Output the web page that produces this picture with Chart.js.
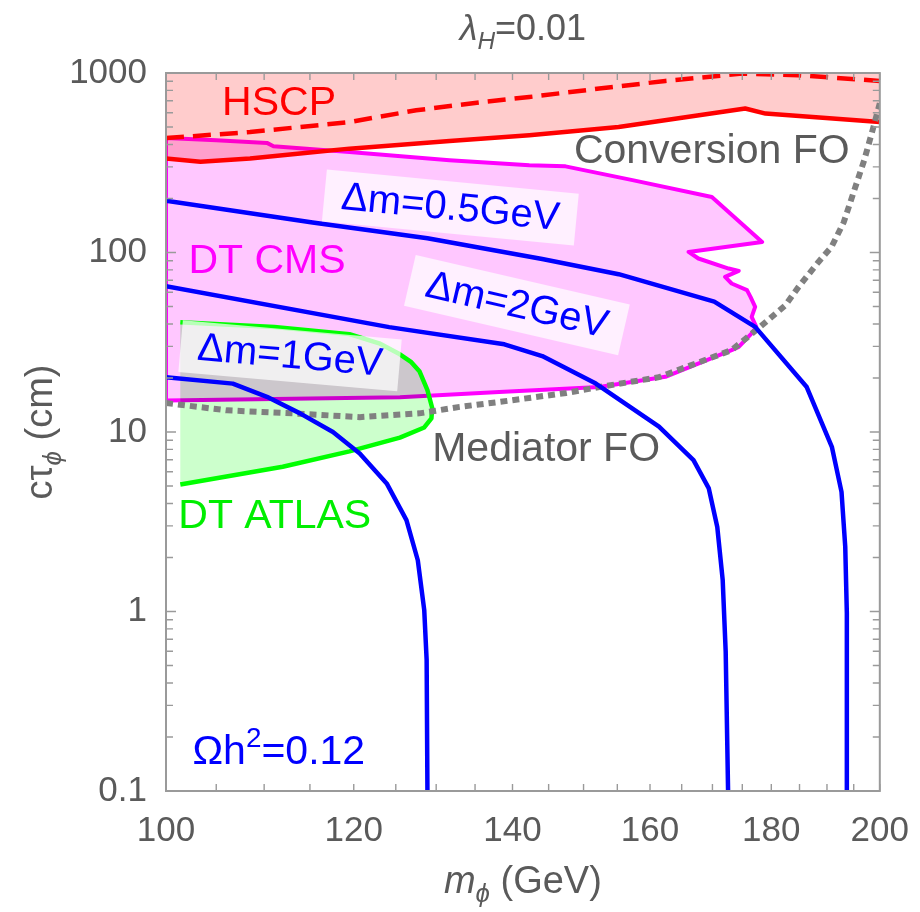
<!DOCTYPE html>
<html>
<head>
<meta charset="utf-8">
<script src="https://cdn.jsdelivr.net/npm/chart.js@4.4.1/dist/chart.umd.min.js"></script>
<style>
  html, body { margin: 0; padding: 0; background: #fff; }
  canvas { display: block; }
</style>
</head>
<body>
<canvas id="lifetimeChart" width="920" height="912"></canvas>
<script>
// m_phi in GeV, c*tau_phi in cm
const hscpSolidM  = [100, 103.4, 108.5, 113.9, 119.5, 131.7, 142.3, 155.2, 175.5, 179, 200];
const hscpSolidCt = [334, 320, 334, 356, 379, 418, 450, 500, 634, 594, 533];

const hscpDashM  = [100, 108.5, 113.9, 119.5, 127.5, 136.0, 142.3, 152.3, 162.4, 175.0, 184.8, 200];
const hscpDashCt = [434, 469, 500, 533, 620, 689, 735, 819, 903, 992, 971, 903];

// DT CMS excluded region, traced as a closed outline
const cmsM  = [100, 105.0, 110.3, 111.0, 119.5, 131.7, 142.3, 147.4, 157.3, 169.9, 178.4, 166.1, 167.7, 172.7,
               174.4, 172.1, 173.2, 175.8, 176.4, 177.2, 176.6, 177.4, 176.6, 174.4, 173.2, 162.4, 152.3, 138.2,
               125.5, 100, 100];
const cmsCt = [434, 422, 408, 391, 363, 327, 306, 302, 253, 204, 114.5, 100.7, 92.6, 81.4,
               79.0, 73.1, 67.2, 61.7, 56.6, 49.8, 43.8, 38.5, 35.4, 29.8, 28.6, 20.3, 17.8, 16.7,
               15.6, 15.0, 434];

// DT ATLAS excluded region (open on the left side)
const atlasM  = [101.4, 111.1, 119.5, 123.0, 125.5, 126.9, 127.9, 128.9, 129.5, 129.4, 128.5, 125.5, 119.5, 112.0, 101.4];
const atlasCt = [40.9, 38.4, 35.1, 31.2, 27.1, 24.5, 21.8, 17.1, 13.6, 11.9, 10.6, 9.3, 7.8, 6.4, 5.1];

// mediator / conversion freeze-out boundary
const foM  = [100, 106.1, 113.1, 120.7, 127.9, 133.0, 138.2, 147.5, 152.3, 161.4, 173.2, 177.8, 182.5, 184.8,
              188.4, 190.8, 193.1, 195.1, 197.0, 198.6, 200];
const foCt = [14.5, 13.2, 12.7, 12.1, 12.7, 13.8, 14.7, 16.5, 17.8, 20.2, 28.6, 37.9, 50.9, 64.1,
              88.3, 107, 147, 222, 327, 480, 678];

// relic density contours, Omega h^2 = 0.12
const dm05M  = [100, 115.3, 128.9, 144.1, 155.2, 170.3, 177.2, 186.3, 190.9, 192.7, 193.4, 193.7, 193.7];
const dm05Ct = [194, 147, 120, 92.1, 75.7, 53.3, 38.5, 17.8, 8.27, 4.64, 2.29, 0.98, 0.1];

const dm2M  = [100, 124.2, 138.9, 144.1, 151.8, 161.4, 166.9, 169.4, 170.8, 171.7, 172.2, 172.6];
const dm2Ct = [64.9, 38.4, 30.8, 26.5, 18.6, 10.7, 6.97, 4.85, 2.96, 1.50, 0.6, 0.1];

const dm1M  = [100, 106.7, 110.3, 113.9, 117.6, 120.7, 123.9, 126.3, 127.7, 128.5, 128.8, 128.9];
const dm1Ct = [20.2, 18.6, 15.7, 12.7, 10.0, 7.6, 5.17, 3.23, 1.93, 1.02, 0.54, 0.1];

const xTicks = [100, 105, 110, 115, 120, 125, 130, 135, 140, 145, 150, 155, 160, 165, 170, 175, 180, 185, 190, 195, 200];
const xLabelled = [100, 120, 140, 160, 180, 200];
const yTicks = [0.1, 0.2, 0.3, 0.4, 0.5, 0.6, 0.7, 0.8, 0.9, 1, 2, 3, 4, 5, 6, 7, 8, 9,
                10, 20, 30, 40, 50, 60, 70, 80, 90, 100, 200, 300, 400, 500, 600, 700, 800, 900, 1000];
const yLabelled = [0.1, 1, 10, 100, 1000];

const plainLabels = [
  { text: 'HSCP',          m: 105.6, ct: 678,  color: '#ff0000' },
  { text: 'Conversion FO', m: 148.6, ct: 365,  color: '#5a5a5a' },
  { text: 'DT CMS',        m: 102.2, ct: 89.4, color: '#ff00ff' },
  { text: 'Mediator FO',   m: 129.5, ct: 7.93, color: '#5a5a5a' },
  { text: 'DT ATLAS',      m: 101.2, ct: 3.36, color: '#00ee00' }
];
const boxLabels = [
  { text: 'Δm=0.5GeV', m: 131.8, ct: 178,  angle: 5.5 },
  { text: 'Δm=2GeV',   m: 140.6, ct: 50.9, angle: 13 },
  { text: 'Δm=1GeV',   m: 112.8, ct: 26.6, angle: 5 }
];

const FONT = '"Liberation Sans", Arial, sans-serif';
const GREY = '#5a5a5a';
const FRAME = '#9a9a9a';
const ATLAS_FILL_INDEX = 3;

const pts = (ms, cts) => ms.map((m, i) => ({ x: m, y: cts[i] }));

// text made of pieces: 'n' normal, 'i' italic, 's' italic subscript, 'p' superscript
function drawRich(ctx, parts, x, y, size, align) {
  const fontFor = (k) => {
    const it = (k === 'i' || k === 's') ? 'italic ' : '';
    const sz = (k === 's' || k === 'p') ? size * 0.68 : size;
    return `${it}${sz}px ${FONT}`;
  };
  let w = 0;
  parts.forEach(([t, k]) => { ctx.font = fontFor(k); w += ctx.measureText(t).width; });
  let cx = align === 'center' ? x - w / 2 : x;
  ctx.textAlign = 'left';
  ctx.textBaseline = 'alphabetic';
  parts.forEach(([t, k]) => {
    ctx.font = fontFor(k);
    const dy = k === 's' ? size * 0.24 : (k === 'p' ? -size * 0.42 : 0);
    ctx.fillText(t, cx, y + dy);
    cx += ctx.measureText(t).width;
  });
}

const decorations = {
  id: 'decorations',
  beforeDatasetsDraw(chart) {
    // region overlaps blend like ink
    chart.ctx.globalCompositeOperation = 'multiply';
  },
  afterDatasetDraw(chart, args) {
    if (args.index === ATLAS_FILL_INDEX) chart.ctx.globalCompositeOperation = 'source-over';
  },
  afterDatasetsDraw(chart) {
    const ctx = chart.ctx;
    const xs = chart.scales.x, ys = chart.scales.y;
    ctx.save();
    ctx.globalCompositeOperation = 'source-over';

    boxLabels.forEach((l) => {
      ctx.save();
      ctx.translate(xs.getPixelForValue(l.m), ys.getPixelForValue(l.ct));
      ctx.rotate(l.angle * Math.PI / 180);
      ctx.font = `40px ${FONT}`;
      const w = ctx.measureText(l.text).width;
      ctx.fillStyle = 'rgba(255,255,255,0.72)';
      ctx.fillRect(-w / 2 - 17, -26, w + 34, 52);
      ctx.fillStyle = '#0000ff';
      ctx.textAlign = 'center';
      ctx.textBaseline = 'middle';
      ctx.fillText(l.text, 0, 1);
      ctx.restore();
    });

    plainLabels.forEach((l) => {
      ctx.font = `41px ${FONT}`;
      ctx.fillStyle = l.color;
      ctx.textAlign = 'left';
      ctx.textBaseline = 'middle';
      ctx.fillText(l.text, xs.getPixelForValue(l.m), ys.getPixelForValue(l.ct));
    });

    ctx.fillStyle = '#0000ff';
    drawRich(ctx, [['Ωh', 'n'], ['2', 'p'], ['=0.12', 'n']],
      xs.getPixelForValue(102.6), ys.getPixelForValue(0.1414), 41, 'left');
    ctx.restore();
  },
  afterDraw(chart) {
    const ctx = chart.ctx;
    const a = chart.chartArea;
    const xs = chart.scales.x, ys = chart.scales.y;
    ctx.save();
    ctx.strokeStyle = FRAME;
    ctx.lineWidth = 1.4;
    ctx.beginPath();
    xTicks.forEach((v) => {
      const p = xs.getPixelForValue(v);
      ctx.moveTo(p, a.bottom); ctx.lineTo(p, a.bottom - 7);
      ctx.moveTo(p, a.top); ctx.lineTo(p, a.top + 7);
    });
    yTicks.forEach((v) => {
      const p = ys.getPixelForValue(v);
      const len = yLabelled.includes(v) ? 10 : 7;
      ctx.moveTo(a.left, p); ctx.lineTo(a.left + len, p);
      ctx.moveTo(a.right, p); ctx.lineTo(a.right - len, p);
    });
    ctx.stroke();
    ctx.lineWidth = 2;
    ctx.strokeRect(a.left, a.top, a.right - a.left, a.bottom - a.top);

    ctx.fillStyle = GREY;
    const cx = (a.left + a.right) / 2;
    drawRich(ctx, [['λ', 'i'], ['H', 's'], ['=0.01', 'n']], cx, 40, 36, 'center');
    drawRich(ctx, [['m', 'i'], ['ϕ', 's'], [' (GeV)', 'n']], cx, 893, 38, 'center');

    ctx.translate(52, (a.top + a.bottom) / 2);
    ctx.rotate(-Math.PI / 2);
    drawRich(ctx, [['cτ', 'n'], ['ϕ', 's'], [' (cm)', 'n']], 0, 0, 38, 'center');
    ctx.restore();
  }
};

const line = (data, color, width, extra) => Object.assign({
  data, borderColor: color, borderWidth: width, showLine: true,
  pointRadius: 0, fill: false, borderJoinStyle: 'round'
}, extra || {});

const atlasPts = pts(atlasM, atlasCt);

const datasets = [
  line(pts(hscpSolidM, hscpSolidCt), '#ff0000', 4.5, { fill: 'end', backgroundColor: 'rgba(255,0,0,0.2)', order: 8 }),
  line(pts(hscpDashM, hscpDashCt), '#ff0000', 4.5, { borderDash: [18, 9], order: 7 }),
  line(pts(cmsM, cmsCt), '#ff00ff', 4, { fill: 'shape', backgroundColor: 'rgba(255,0,255,0.22)', order: 6 }),
  line(atlasPts, 'rgba(0,0,0,0)', 0, { fill: 'shape', backgroundColor: 'rgba(0,255,0,0.2)', order: 5 }),
  line(atlasPts, '#00ff00', 4.5, { order: 4 }),
  line(pts(foM, foCt), '#808080', 6, { borderDash: [7, 5], borderJoinStyle: 'miter', order: 3 }),
  line(pts(dm05M, dm05Ct), '#0000ff', 4.5, { order: 1 }),
  line(pts(dm2M, dm2Ct), '#0000ff', 4.5, { order: 1 }),
  line(pts(dm1M, dm1Ct), '#0000ff', 4.5, { order: 1 })
];

new Chart(document.getElementById('lifetimeChart'), {
  type: 'scatter',
  data: { datasets },
  options: {
    responsive: false,
    animation: false,
    devicePixelRatio: 1,
    layout: { padding: { top: 73, right: 38, left: 0, bottom: 0 } },
    plugins: { legend: { display: false }, tooltip: { enabled: false } },
    scales: {
      x: {
        type: 'logarithmic', min: 100, max: 200,
        afterBuildTicks: (s) => { s.ticks = xTicks.map((v) => ({ value: v })); },
        afterFit: (s) => { s.height = 121; },
        grid: { display: false }, border: { display: false },
        ticks: {
          autoSkip: false, maxRotation: 0, minRotation: 0, padding: 11,
          color: GREY, font: { family: 'Liberation Sans', size: 35 },
          callback: (v) => (xLabelled.includes(v) ? String(v) : '')
        }
      },
      y: {
        type: 'logarithmic', min: 0.1, max: 1000,
        afterBuildTicks: (s) => { s.ticks = yTicks.map((v) => ({ value: v })); },
        afterFit: (s) => { s.width = 166; },
        grid: { display: false }, border: { display: false },
        ticks: {
          autoSkip: false, padding: 11,
          color: GREY, font: { family: 'Liberation Sans', size: 35 },
          callback: (v) => (yLabelled.includes(v) ? String(v) : '')
        }
      }
    }
  },
  plugins: [decorations]
});
</script>
</body>
</html>
